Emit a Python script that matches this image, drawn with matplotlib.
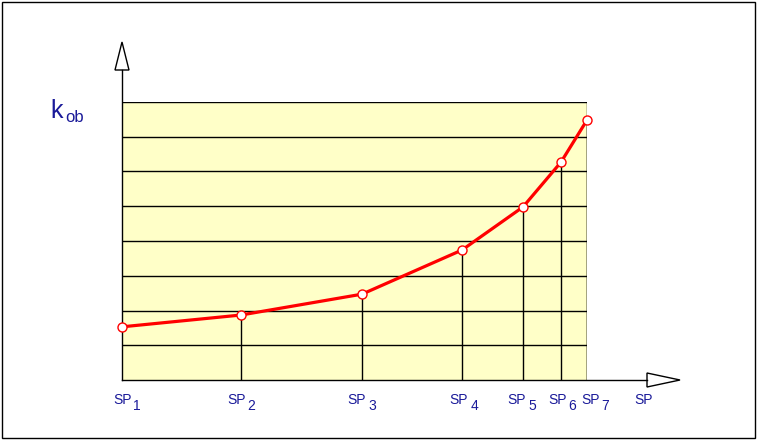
import matplotlib.pyplot as plt
from matplotlib.patches import Polygon, Rectangle

plt.rcParams['font.family'] = ['Liberation Sans', 'DejaVu Sans']

# positions of the SP points along the x axis and the k_ob values (grid units)
sp_pos = [0, 119, 240, 340, 401, 439, 465]
kob = [1.53, 1.87, 2.47, 3.74, 4.98, 6.27, 7.48]
sp_labels = ['1', '2', '3', '4', '5', '6', '7']
n_grid = 8

# hand placed label offsets (pixels) like in the original drawing
label_dx = [-9, -14, -15, -13, -16, -13, -6]
digit_dx = [11, 6, 6, 9, 5, 7, 14]

text_col = '#1a1a99'

fig = plt.figure(figsize=(7.57, 4.40), dpi=100)
fig.patch.set_facecolor('white')

# outer frame
fig.add_artist(Rectangle((2 / 757, 2 / 440), 753 / 757, 436 / 440,
                         transform=fig.transFigure, fill=False,
                         edgecolor='black', linewidth=1))

ax = fig.add_axes([122 / 757, 60 / 440, 465 / 757, 278 / 440])
ax.set_xlim(0, 465)
ax.set_ylim(0, n_grid)
ax.set_facecolor('#ffffc8')
for s in ax.spines.values():
    s.set_visible(False)
ax.set_xticks([])
ax.set_yticks([])

# horizontal grid + top/right border
for g in range(1, n_grid + 1):
    ax.plot([0, 465], [g, g], color='black', linewidth=1, zorder=1)
ax.plot([465, 465], [0, n_grid], color='black', linewidth=1, zorder=1)

# drop lines
for x, y in zip(sp_pos[1:], kob[1:]):
    ax.plot([x, x], [0, y], color='black', linewidth=1, zorder=1)

# curve
ax.plot(sp_pos, kob, color='#ff0000', linewidth=2.3, marker='o',
        markersize=6.5, markerfacecolor='white', markeredgecolor='#ff0000',
        markeredgewidth=1, zorder=3, clip_on=False)

# axes arrows
py = n_grid / 278.0  # data units per pixel in y
ax.plot([0, 0], [0, 310 * py], color='black', linewidth=1, clip_on=False, zorder=2)
ax.add_patch(Polygon([(-7, 310 * py), (7, 310 * py), (0, 338 * py)], closed=True,
                     facecolor='white', edgecolor='black', linewidth=1, clip_on=False))
ax.plot([0, 525], [0, 0], color='black', linewidth=1, clip_on=False, zorder=2)
ax.add_patch(Polygon([(525, -7 * py), (525, 7 * py), (558, 0)], closed=True,
                     facecolor='white', edgecolor='black', linewidth=1, clip_on=False))

# x labels
for x, lab, dx, ddx in zip(sp_pos, sp_labels, label_dx, digit_dx):
    ax.annotate('SP', (x, 0), xytext=(dx, -13), textcoords='offset pixels',
                ha='left', va='top', fontsize=10, color=text_col, annotation_clip=False)
    ax.annotate(lab, (x, 0), xytext=(ddx, -19), textcoords='offset pixels',
                ha='left', va='top', fontsize=10, color=text_col, annotation_clip=False)
ax.annotate('SP', (512, 0), xytext=(0, -13), textcoords='offset pixels',
            ha='left', va='top', fontsize=10, color=text_col, annotation_clip=False)

# y label
fig.text(50 / 757, 1 - 118 / 440, 'k', fontsize=18, color=text_col, ha='left', va='baseline')
fig.text(65 / 757, 1 - 122 / 440, 'ob', fontsize=12, color=text_col, ha='left', va='baseline')

fig.savefig('out.png', dpi=100)
